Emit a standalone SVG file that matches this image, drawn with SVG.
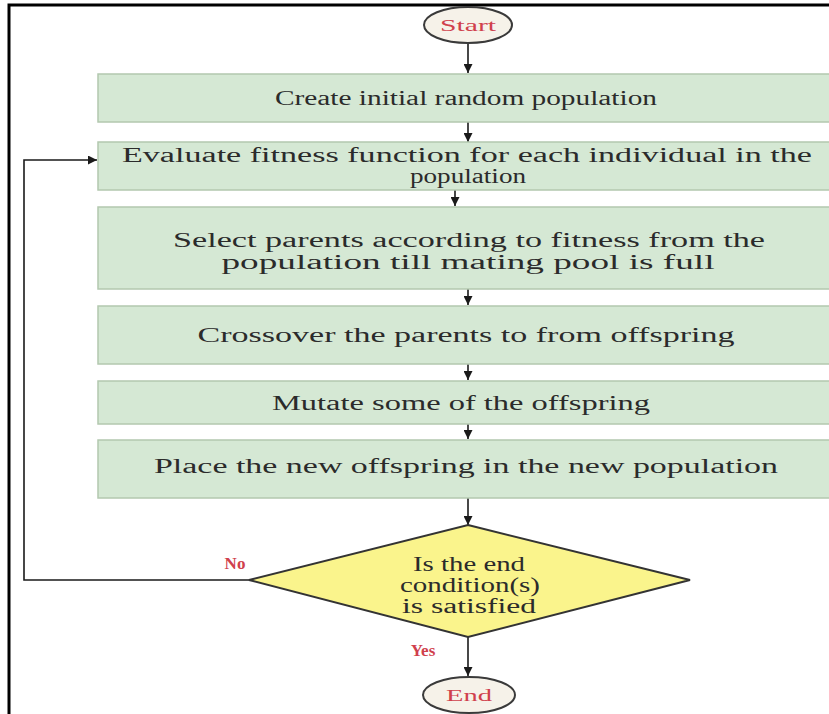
<svg xmlns="http://www.w3.org/2000/svg" width="829" height="714" viewBox="0 0 829 714">
<style>
.box{fill:#d5e8d4;stroke:#b3c8af;stroke-width:1.5}
.t{font-family:"Liberation Serif","Times New Roman",serif;font-size:20px;fill:#2b2b2b;text-anchor:middle}
.r{font-family:"Liberation Serif","Times New Roman",serif;font-size:17px;fill:#d0404c;text-anchor:middle;font-weight:bold}
.term{fill:#f6f2e9;stroke:#3a3a3a;stroke-width:2}
.c{stroke:#1a1a1a;stroke-width:1.6;fill:none}
</style>
<defs>
<marker id="ah" viewBox="0 0 10 10" refX="10" refY="5" markerWidth="9" markerHeight="9" markerUnits="userSpaceOnUse" orient="auto">
<path d="M0,0 L10,5 L0,10 z" fill="#1a1a1a"/>
</marker>
</defs>
<rect width="829" height="714" fill="#ffffff"/>
<path d="M9,714 V5 H829" fill="none" stroke="#000" stroke-width="3"/>

<g id="connectors">
<line class="c" x1="468" y1="43" x2="468" y2="73" marker-end="url(#ah)"/>
<line class="c" x1="468" y1="122" x2="468" y2="142" marker-end="url(#ah)"/>
<line class="c" x1="455" y1="190" x2="455" y2="206" marker-end="url(#ah)"/>
<line class="c" x1="468" y1="289" x2="468" y2="305" marker-end="url(#ah)"/>
<line class="c" x1="468" y1="364" x2="468" y2="380" marker-end="url(#ah)"/>
<line class="c" x1="468" y1="424" x2="468" y2="439" marker-end="url(#ah)"/>
<line class="c" x1="468" y1="498" x2="468" y2="525" marker-end="url(#ah)"/>
<line class="c" x1="468" y1="637" x2="468" y2="676" marker-end="url(#ah)"/>
<path class="c" d="M249,580 H24 V160 H97" marker-end="url(#ah)"/>
<text class="r" x="235" y="569">No</text>
<text class="r" x="423" y="656">Yes</text>
</g>

<g id="start">
<ellipse class="term" cx="468" cy="25" rx="44" ry="18"/>
<text class="r" x="468" y="31" style="font-weight:normal" textLength="56" lengthAdjust="spacingAndGlyphs">Start</text>
</g>

<g id="create">
<rect class="box" x="98" y="74" width="740" height="48"/>
<text class="t" x="466" y="105" textLength="382" lengthAdjust="spacingAndGlyphs">Create initial random population</text>
</g>

<g id="evaluate">
<rect class="box" x="98" y="142" width="740" height="48"/>
<text class="t" x="467" y="162" textLength="690" lengthAdjust="spacingAndGlyphs">Evaluate fitness function for each individual in the</text>
<text class="t" x="468" y="183" textLength="116" lengthAdjust="spacingAndGlyphs">population</text>
</g>

<g id="select">
<rect class="box" x="98" y="207" width="740" height="82"/>
<text class="t" x="469" y="247" textLength="592" lengthAdjust="spacingAndGlyphs">Select parents according to fitness from the</text>
<text class="t" x="468" y="269" textLength="493" lengthAdjust="spacingAndGlyphs">population till mating pool is full</text>
</g>

<g id="crossover">
<rect class="box" x="98" y="306" width="740" height="58"/>
<text class="t" x="466" y="342" textLength="537" lengthAdjust="spacingAndGlyphs">Crossover the parents to from offspring</text>
</g>

<g id="mutate">
<rect class="box" x="98" y="381" width="740" height="43"/>
<text class="t" x="461" y="410" textLength="378" lengthAdjust="spacingAndGlyphs">Mutate some of the offspring</text>
</g>

<g id="place">
<rect class="box" x="98" y="440" width="740" height="58"/>
<text class="t" x="466" y="473" textLength="624" lengthAdjust="spacingAndGlyphs">Place the new offspring in the new population</text>
</g>

<g id="decision">
<polygon points="468,525 690,580 468,637 249,580" fill="#faf48c" stroke="#333" stroke-width="2"/>
<text class="t" x="469" y="571" textLength="112" lengthAdjust="spacingAndGlyphs">Is the end</text>
<text class="t" x="470" y="592" textLength="140" lengthAdjust="spacingAndGlyphs">condition(s)</text>
<text class="t" x="469" y="613" textLength="134" lengthAdjust="spacingAndGlyphs">is satisfied</text>
</g>

<g id="end">
<ellipse class="term" cx="469" cy="695" rx="46" ry="18"/>
<text class="r" x="469" y="701" style="font-weight:normal" textLength="46" lengthAdjust="spacingAndGlyphs">End</text>
</g>
</svg>
